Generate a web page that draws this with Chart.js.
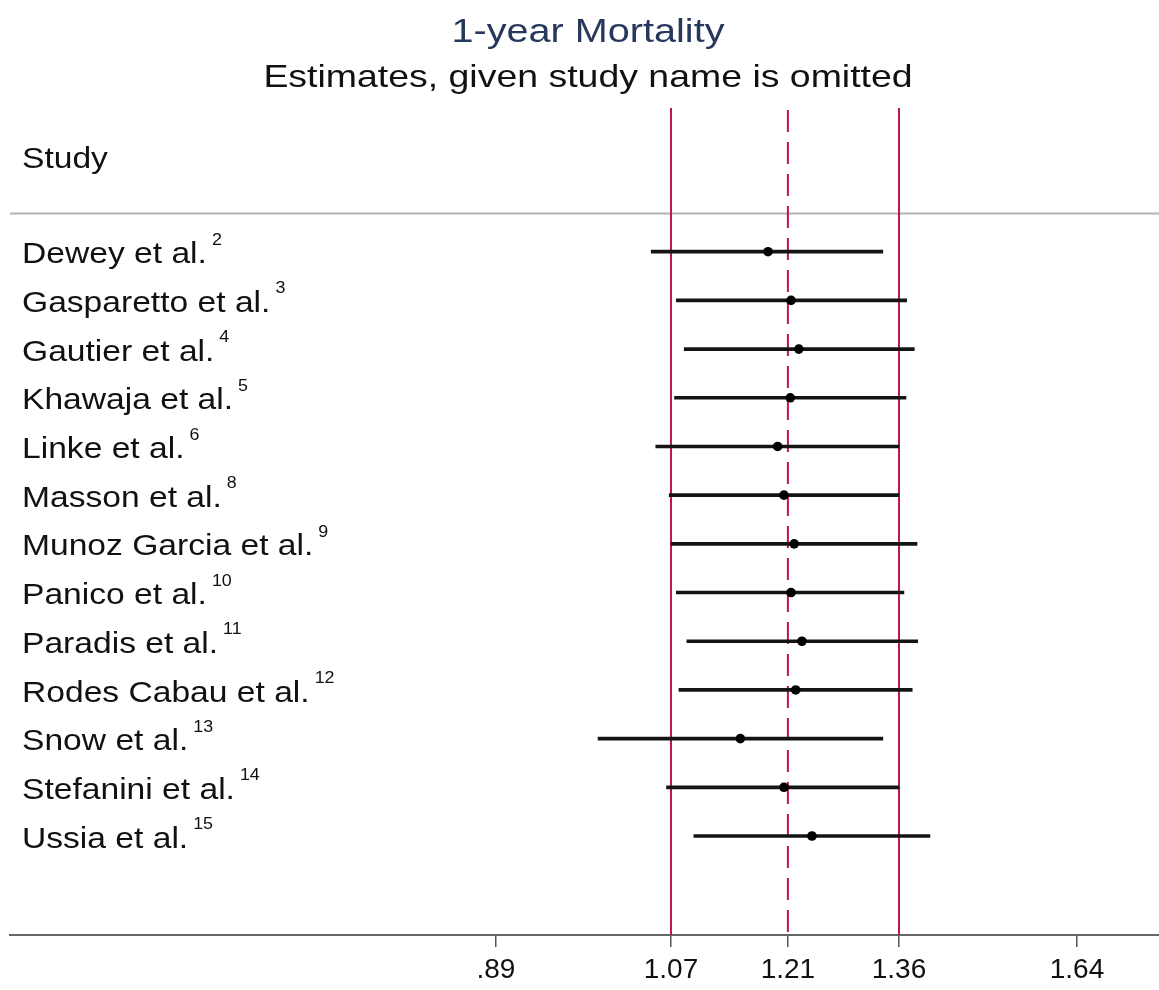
<!DOCTYPE html>
<html>
<head>
<meta charset="utf-8">
<script src="https://cdn.jsdelivr.net/npm/chart.js@4/dist/chart.umd.min.js"></script>
<style>
  html, body { margin: 0; padding: 0; background: #ffffff; }
  #wrap { width: 1159px; height: 990px; }
</style>
</head>
<body>
<div id="wrap"><canvas id="forest" width="1159" height="990"></canvas></div>
<script>
// Leave-one-out sensitivity analysis: pooled estimate when each study is omitted
const studies = [
  'Dewey et al.', 'Gasparetto et al.', 'Gautier et al.', 'Khawaja et al.',
  'Linke et al.', 'Masson et al.', 'Munoz Garcia et al.', 'Panico et al.',
  'Paradis et al.', 'Rodes Cabau et al.', 'Snow et al.', 'Stefanini et al.',
  'Ussia et al.'
];
const refs = ['2', '3', '4', '5', '6', '8', '9', '10', '11', '12', '13', '14', '15'];
const estimates = [1.185, 1.214, 1.224, 1.213, 1.197, 1.205, 1.218, 1.214, 1.228, 1.220, 1.151, 1.205, 1.241];
const lower     = [1.048, 1.076, 1.085, 1.074, 1.053, 1.068, 1.070, 1.076, 1.088, 1.079, 0.991, 1.065, 1.096];
const upper     = [1.337, 1.371, 1.382, 1.370, 1.360, 1.360, 1.386, 1.367, 1.387, 1.379, 1.337, 1.360, 1.405];

// Full-data pooled estimate and its confidence bounds
const pooledLow = 1.07;
const pooledEst = 1.21;
const pooledHigh = 1.36;

const tickValues = [0.89, 1.07, 1.21, 1.36, 1.64];
const tickLabels = ['.89', '1.07', '1.21', '1.36', '1.64'];

const titleText = '1-year Mortality';
const subtitleText = 'Estimates, given study name is omitted';
const headerText = 'Study';

const FONT = '"Liberation Sans", Arial, Helvetica, sans-serif';
const RED = '#c0174a';

// Draws text stretched horizontally by sx; returns the right edge
function drawText(ctx, str, x, y, size, sx, align, color) {
  ctx.save();
  ctx.font = size + 'px ' + FONT;
  ctx.fillStyle = color;
  ctx.textBaseline = 'alphabetic';
  ctx.textAlign = 'left';
  const w = ctx.measureText(str).width * sx;
  const left = align === 'center' ? x - w / 2 : x;
  ctx.translate(left, y);
  ctx.scale(sx, 1);
  ctx.fillText(str, 0, 0);
  ctx.restore();
  return left + w;
}

const forestOverlay = {
  id: 'forestOverlay',
  beforeDatasetsDraw(chart) {
    const { ctx, chartArea: a, scales: { x, y } } = chart;
    ctx.save();
    // rule under the header
    const ruleY = Math.round(y.getPixelForValue(0.2)) + 0.5;
    ctx.strokeStyle = '#b4b4b4';
    ctx.lineWidth = 2;
    ctx.beginPath();
    ctx.moveTo(a.left, ruleY);
    ctx.lineTo(a.right, ruleY);
    ctx.stroke();

    // pooled confidence bounds (solid) and pooled estimate (dashed)
    ctx.strokeStyle = RED;
    ctx.lineWidth = 2;
    [pooledLow, pooledHigh].forEach(v => {
      const px = x.getPixelForValue(v);
      ctx.beginPath();
      ctx.moveTo(px, a.top);
      ctx.lineTo(px, a.bottom);
      ctx.stroke();
    });
    const pe = x.getPixelForValue(pooledEst);
    ctx.setLineDash([22, 10]);
    ctx.beginPath();
    ctx.moveTo(pe, a.top + 2);
    ctx.lineTo(pe, a.bottom);
    ctx.stroke();
    ctx.restore();
  },
  afterDraw(chart) {
    const { ctx, scales: { y } } = chart;
    drawText(ctx, titleText, 588, 42, 33, 1.2, 'center', '#28375c');
    drawText(ctx, subtitleText, 588, 87, 32, 1.17, 'center', '#111111');
    drawText(ctx, headerText, 22, 168, 30, 1.12, 'left', '#111111');
    studies.forEach((name, i) => {
      const base = y.getPixelForValue(i + 1) + 11.6;
      const end = drawText(ctx, name, 22, base, 30, 1.12, 'left', '#111111');
      drawText(ctx, refs[i], end + 5, base - 18.5, 17, 1.05, 'left', '#111111');
    });
  }
};

const rows = studies.map((_, i) => i + 1);

new Chart(document.getElementById('forest').getContext('2d'), {
  type: 'scatter',
  data: {
    datasets: [
      {
        type: 'bar',
        indexAxis: 'y',
        data: rows.map((r, i) => ({ y: r, x: [lower[i], upper[i]] })),
        backgroundColor: '#141414',
        borderWidth: 0,
        barThickness: 3,
        order: 2
      },
      {
        type: 'scatter',
        data: rows.map((r, i) => ({ x: estimates[i], y: r })),
        pointRadius: 4.8,
        pointBackgroundColor: '#000000',
        pointBorderWidth: 0,
        order: 1
      }
    ]
  },
  options: {
    responsive: false,
    animation: false,
    devicePixelRatio: 1,
    layout: { autoPadding: false, padding: { left: 10, right: 0, top: 108, bottom: 3 } },
    plugins: { legend: { display: false }, tooltip: { enabled: false }, title: { display: false } },
    scales: {
      x: {
        type: 'logarithmic',
        min: 0.5339,
        max: 1.7877,
        bounds: 'data',
        offset: false,
        afterBuildTicks: s => { s.ticks = tickValues.map(v => ({ value: v })); },
        afterFit: s => { s.height = 52; },
        ticks: {
          callback: (v, i) => tickLabels[i],
          autoSkip: false,
          maxRotation: 0,
          minRotation: 0,
          padding: 6,
          color: '#111111',
          font: { family: FONT, size: 28 }
        },
        grid: { display: true, offset: false, drawOnChartArea: false, drawTicks: true, tickLength: 12, color: '#555555', lineWidth: 1.5 },
        border: { display: true, color: '#666666', width: 2 }
      },
      y: {
        type: 'linear',
        min: -1.951,
        max: 15.033,
        reverse: true,
        offset: false,
        grid: { offset: false },
        display: false
      }
    }
  },
  plugins: [forestOverlay]
});
</script>
</body>
</html>
